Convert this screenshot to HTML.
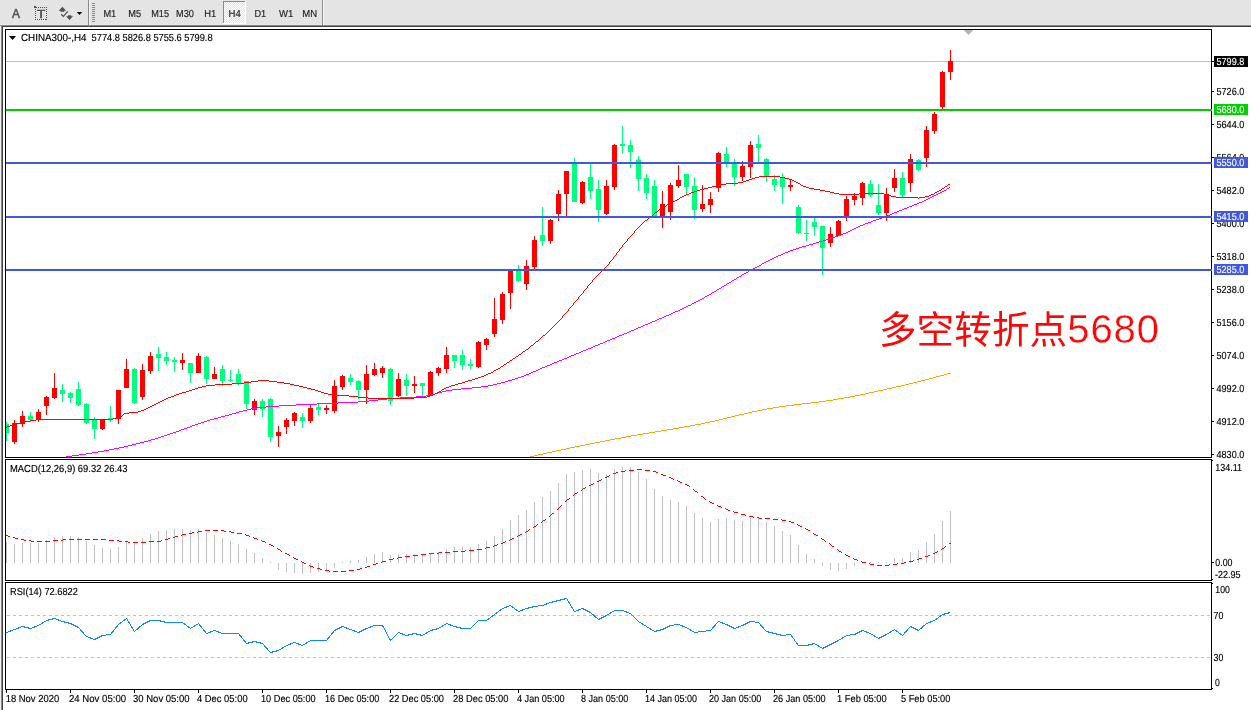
<!DOCTYPE html>
<html><head><meta charset="utf-8"><title>CHINA300-,H4</title>
<style>
html,body{margin:0;padding:0;background:#fff;}
body{width:1251px;height:710px;overflow:hidden;position:relative;font-family:"Liberation Sans","Noto Sans CJK SC",sans-serif;}
svg text{font-family:"Liberation Sans","Noto Sans CJK SC",sans-serif;}
</style></head><body>
<svg width="1251" height="710" viewBox="0 0 1251 710" shape-rendering="crispEdges" style="position:absolute;left:0;top:0">
<rect x="0" y="0" width="1251" height="25" fill="#e4e4e4"/>
<rect x="0" y="24" width="1251" height="1" fill="#e9e9e9"/>
<rect x="0" y="25" width="1251" height="1" fill="#8a8a8a"/>
<rect x="1" y="26" width="1251" height="1" fill="#404040"/>
<rect x="0" y="26" width="1" height="684" fill="#f0f0f0"/>
<rect x="1" y="25" width="1" height="685" fill="#8a8a8a"/>
<rect x="2" y="26" width="1" height="684" fill="#404040"/>
<defs><clipPath id="cm"><rect x="6" y="30" width="1205" height="427"/></clipPath></defs>
<rect x="6" y="61" width="1205" height="1" fill="#c0c0c0"/>
<polygon points="963.5,30 973.5,30 968.5,35" fill="#b4b4b4" shape-rendering="auto"/>
<g clip-path="url(#cm)">
<rect x="6" y="422" width="1" height="19" fill="#00ff7f"/>
<rect x="4" y="424" width="5" height="9" fill="#00ff7f"/>
<rect x="14" y="420" width="1" height="24" fill="#ff0000"/>
<rect x="12" y="423" width="5" height="19" fill="#ff0000"/>
<rect x="22" y="411" width="1" height="16" fill="#ff0000"/>
<rect x="20" y="416" width="5" height="8" fill="#ff0000"/>
<rect x="30" y="412" width="1" height="10" fill="#00ff7f"/>
<rect x="28" y="416" width="5" height="4" fill="#00ff7f"/>
<rect x="38" y="409" width="1" height="13" fill="#ff0000"/>
<rect x="36" y="412" width="5" height="8" fill="#ff0000"/>
<rect x="46" y="396" width="1" height="19" fill="#ff0000"/>
<rect x="44" y="397" width="5" height="9" fill="#ff0000"/>
<rect x="54" y="373" width="1" height="26" fill="#ff0000"/>
<rect x="52" y="388" width="5" height="10" fill="#ff0000"/>
<rect x="62" y="384" width="1" height="18" fill="#00ff7f"/>
<rect x="60" y="390" width="5" height="4" fill="#00ff7f"/>
<rect x="70" y="392" width="1" height="11" fill="#00ff7f"/>
<rect x="68" y="393" width="5" height="5" fill="#00ff7f"/>
<rect x="78" y="382" width="1" height="24" fill="#00ff7f"/>
<rect x="76" y="389" width="5" height="16" fill="#00ff7f"/>
<rect x="86" y="403" width="1" height="21" fill="#00ff7f"/>
<rect x="84" y="404" width="5" height="19" fill="#00ff7f"/>
<rect x="94" y="417" width="1" height="22" fill="#00ff7f"/>
<rect x="92" y="420" width="5" height="9" fill="#00ff7f"/>
<rect x="102" y="420" width="1" height="10" fill="#ff0000"/>
<rect x="100" y="420" width="5" height="9" fill="#ff0000"/>
<rect x="110" y="406" width="1" height="16" fill="#00ff7f"/>
<rect x="108" y="418" width="5" height="2" fill="#00ff7f"/>
<rect x="118" y="390" width="1" height="34" fill="#ff0000"/>
<rect x="116" y="390" width="5" height="29" fill="#ff0000"/>
<rect x="126" y="359" width="1" height="29" fill="#ff0000"/>
<rect x="124" y="369" width="5" height="19" fill="#ff0000"/>
<rect x="134" y="368" width="1" height="36" fill="#00ff7f"/>
<rect x="132" y="369" width="5" height="34" fill="#00ff7f"/>
<rect x="142" y="364" width="1" height="36" fill="#ff0000"/>
<rect x="140" y="370" width="5" height="27" fill="#ff0000"/>
<rect x="150" y="352" width="1" height="22" fill="#ff0000"/>
<rect x="148" y="356" width="5" height="15" fill="#ff0000"/>
<rect x="158" y="347" width="1" height="24" fill="#00ff7f"/>
<rect x="156" y="354" width="5" height="4" fill="#00ff7f"/>
<rect x="166" y="352" width="1" height="13" fill="#00ff7f"/>
<rect x="164" y="357" width="5" height="4" fill="#00ff7f"/>
<rect x="174" y="357" width="1" height="15" fill="#00ff7f"/>
<rect x="172" y="360" width="5" height="2" fill="#00ff7f"/>
<rect x="182" y="353" width="1" height="17" fill="#ff0000"/>
<rect x="180" y="360" width="5" height="3" fill="#ff0000"/>
<rect x="190" y="363" width="1" height="20" fill="#00ff7f"/>
<rect x="188" y="363" width="5" height="10" fill="#00ff7f"/>
<rect x="198" y="353" width="1" height="20" fill="#ff0000"/>
<rect x="196" y="356" width="5" height="17" fill="#ff0000"/>
<rect x="206" y="356" width="1" height="28" fill="#00ff7f"/>
<rect x="204" y="357" width="5" height="22" fill="#00ff7f"/>
<rect x="214" y="367" width="1" height="12" fill="#ff0000"/>
<rect x="212" y="374" width="5" height="5" fill="#ff0000"/>
<rect x="222" y="365" width="1" height="21" fill="#00ff7f"/>
<rect x="220" y="369" width="5" height="12" fill="#00ff7f"/>
<rect x="230" y="370" width="1" height="12" fill="#00ff7f"/>
<rect x="228" y="380" width="5" height="1" fill="#00ff7f"/>
<rect x="238" y="369" width="1" height="16" fill="#00ff7f"/>
<rect x="236" y="374" width="5" height="9" fill="#00ff7f"/>
<rect x="246" y="381" width="1" height="28" fill="#00ff7f"/>
<rect x="244" y="381" width="5" height="23" fill="#00ff7f"/>
<rect x="254" y="399" width="1" height="16" fill="#ff0000"/>
<rect x="252" y="401" width="5" height="9" fill="#ff0000"/>
<rect x="262" y="399" width="1" height="18" fill="#00ff7f"/>
<rect x="260" y="401" width="5" height="8" fill="#00ff7f"/>
<rect x="270" y="398" width="1" height="44" fill="#00ff7f"/>
<rect x="268" y="399" width="5" height="38" fill="#00ff7f"/>
<rect x="278" y="426" width="1" height="21" fill="#ff0000"/>
<rect x="276" y="432" width="5" height="4" fill="#ff0000"/>
<rect x="286" y="418" width="1" height="16" fill="#ff0000"/>
<rect x="284" y="420" width="5" height="7" fill="#ff0000"/>
<rect x="294" y="412" width="1" height="14" fill="#ff0000"/>
<rect x="292" y="413" width="5" height="8" fill="#ff0000"/>
<rect x="302" y="413" width="1" height="15" fill="#00ff7f"/>
<rect x="300" y="417" width="5" height="4" fill="#00ff7f"/>
<rect x="310" y="404" width="1" height="19" fill="#ff0000"/>
<rect x="308" y="408" width="5" height="13" fill="#ff0000"/>
<rect x="318" y="404" width="1" height="11" fill="#00ff7f"/>
<rect x="316" y="407" width="5" height="3" fill="#00ff7f"/>
<rect x="326" y="405" width="1" height="9" fill="#ff0000"/>
<rect x="324" y="408" width="5" height="2" fill="#ff0000"/>
<rect x="334" y="380" width="1" height="33" fill="#ff0000"/>
<rect x="332" y="386" width="5" height="25" fill="#ff0000"/>
<rect x="342" y="375" width="1" height="15" fill="#ff0000"/>
<rect x="340" y="376" width="5" height="11" fill="#ff0000"/>
<rect x="350" y="374" width="1" height="11" fill="#00ff7f"/>
<rect x="348" y="378" width="5" height="4" fill="#00ff7f"/>
<rect x="358" y="380" width="1" height="19" fill="#00ff7f"/>
<rect x="356" y="381" width="5" height="9" fill="#00ff7f"/>
<rect x="366" y="365" width="1" height="39" fill="#ff0000"/>
<rect x="364" y="374" width="5" height="16" fill="#ff0000"/>
<rect x="374" y="363" width="1" height="13" fill="#ff0000"/>
<rect x="372" y="369" width="5" height="6" fill="#ff0000"/>
<rect x="382" y="366" width="1" height="12" fill="#ff0000"/>
<rect x="380" y="368" width="5" height="5" fill="#ff0000"/>
<rect x="390" y="368" width="1" height="37" fill="#00ff7f"/>
<rect x="388" y="369" width="5" height="32" fill="#00ff7f"/>
<rect x="398" y="373" width="1" height="24" fill="#ff0000"/>
<rect x="396" y="379" width="5" height="17" fill="#ff0000"/>
<rect x="406" y="374" width="1" height="22" fill="#00ff7f"/>
<rect x="404" y="380" width="5" height="6" fill="#00ff7f"/>
<rect x="414" y="376" width="1" height="17" fill="#ff0000"/>
<rect x="412" y="384" width="5" height="2" fill="#ff0000"/>
<rect x="422" y="383" width="1" height="14" fill="#00ff7f"/>
<rect x="420" y="383" width="5" height="3" fill="#00ff7f"/>
<rect x="430" y="371" width="1" height="25" fill="#ff0000"/>
<rect x="428" y="372" width="5" height="23" fill="#ff0000"/>
<rect x="438" y="367" width="1" height="9" fill="#ff0000"/>
<rect x="436" y="368" width="5" height="5" fill="#ff0000"/>
<rect x="446" y="347" width="1" height="26" fill="#ff0000"/>
<rect x="444" y="355" width="5" height="14" fill="#ff0000"/>
<rect x="454" y="355" width="1" height="13" fill="#00ff7f"/>
<rect x="452" y="355" width="5" height="6" fill="#00ff7f"/>
<rect x="462" y="350" width="1" height="20" fill="#00ff7f"/>
<rect x="460" y="355" width="5" height="10" fill="#00ff7f"/>
<rect x="470" y="359" width="1" height="10" fill="#00ff7f"/>
<rect x="468" y="364" width="5" height="2" fill="#00ff7f"/>
<rect x="478" y="341" width="1" height="27" fill="#ff0000"/>
<rect x="476" y="342" width="5" height="25" fill="#ff0000"/>
<rect x="486" y="338" width="1" height="12" fill="#ff0000"/>
<rect x="484" y="339" width="5" height="6" fill="#ff0000"/>
<rect x="494" y="298" width="1" height="39" fill="#ff0000"/>
<rect x="492" y="319" width="5" height="15" fill="#ff0000"/>
<rect x="502" y="292" width="1" height="32" fill="#ff0000"/>
<rect x="500" y="294" width="5" height="26" fill="#ff0000"/>
<rect x="510" y="270" width="1" height="39" fill="#ff0000"/>
<rect x="508" y="270" width="5" height="23" fill="#ff0000"/>
<rect x="518" y="265" width="1" height="17" fill="#00ff7f"/>
<rect x="516" y="270" width="5" height="11" fill="#00ff7f"/>
<rect x="526" y="260" width="1" height="30" fill="#ff0000"/>
<rect x="524" y="266" width="5" height="18" fill="#ff0000"/>
<rect x="534" y="236" width="1" height="33" fill="#ff0000"/>
<rect x="532" y="240" width="5" height="27" fill="#ff0000"/>
<rect x="542" y="207" width="1" height="39" fill="#00ff7f"/>
<rect x="540" y="235" width="5" height="6" fill="#00ff7f"/>
<rect x="550" y="219" width="1" height="25" fill="#ff0000"/>
<rect x="548" y="220" width="5" height="21" fill="#ff0000"/>
<rect x="558" y="190" width="1" height="31" fill="#ff0000"/>
<rect x="556" y="194" width="5" height="20" fill="#ff0000"/>
<rect x="566" y="171" width="1" height="45" fill="#ff0000"/>
<rect x="564" y="171" width="5" height="23" fill="#ff0000"/>
<rect x="574" y="158" width="1" height="44" fill="#00ff7f"/>
<rect x="572" y="163" width="5" height="39" fill="#00ff7f"/>
<rect x="582" y="181" width="1" height="23" fill="#ff0000"/>
<rect x="580" y="182" width="5" height="21" fill="#ff0000"/>
<rect x="590" y="164" width="1" height="35" fill="#00ff7f"/>
<rect x="588" y="177" width="5" height="14" fill="#00ff7f"/>
<rect x="598" y="180" width="1" height="42" fill="#00ff7f"/>
<rect x="596" y="189" width="5" height="21" fill="#00ff7f"/>
<rect x="606" y="180" width="1" height="35" fill="#ff0000"/>
<rect x="604" y="186" width="5" height="28" fill="#ff0000"/>
<rect x="614" y="144" width="1" height="46" fill="#ff0000"/>
<rect x="612" y="145" width="5" height="42" fill="#ff0000"/>
<rect x="622" y="126" width="1" height="28" fill="#00ff7f"/>
<rect x="620" y="144" width="5" height="2" fill="#00ff7f"/>
<rect x="630" y="140" width="1" height="28" fill="#00ff7f"/>
<rect x="628" y="145" width="5" height="7" fill="#00ff7f"/>
<rect x="638" y="156" width="1" height="35" fill="#00ff7f"/>
<rect x="636" y="160" width="5" height="19" fill="#00ff7f"/>
<rect x="646" y="174" width="1" height="25" fill="#00ff7f"/>
<rect x="644" y="178" width="5" height="15" fill="#00ff7f"/>
<rect x="654" y="180" width="1" height="36" fill="#00ff7f"/>
<rect x="652" y="186" width="5" height="30" fill="#00ff7f"/>
<rect x="662" y="191" width="1" height="37" fill="#ff0000"/>
<rect x="660" y="204" width="5" height="12" fill="#ff0000"/>
<rect x="670" y="183" width="1" height="37" fill="#ff0000"/>
<rect x="668" y="185" width="5" height="27" fill="#ff0000"/>
<rect x="678" y="165" width="1" height="23" fill="#ff0000"/>
<rect x="676" y="180" width="5" height="6" fill="#ff0000"/>
<rect x="686" y="174" width="1" height="20" fill="#00ff7f"/>
<rect x="684" y="174" width="5" height="13" fill="#00ff7f"/>
<rect x="694" y="177" width="1" height="42" fill="#00ff7f"/>
<rect x="692" y="186" width="5" height="24" fill="#00ff7f"/>
<rect x="702" y="185" width="1" height="27" fill="#ff0000"/>
<rect x="700" y="204" width="5" height="5" fill="#ff0000"/>
<rect x="710" y="192" width="1" height="21" fill="#ff0000"/>
<rect x="708" y="199" width="5" height="6" fill="#ff0000"/>
<rect x="718" y="152" width="1" height="40" fill="#ff0000"/>
<rect x="716" y="153" width="5" height="35" fill="#ff0000"/>
<rect x="726" y="147" width="1" height="20" fill="#00ff7f"/>
<rect x="724" y="154" width="5" height="8" fill="#00ff7f"/>
<rect x="734" y="159" width="1" height="27" fill="#00ff7f"/>
<rect x="732" y="164" width="5" height="13" fill="#00ff7f"/>
<rect x="742" y="161" width="1" height="20" fill="#ff0000"/>
<rect x="740" y="166" width="5" height="11" fill="#ff0000"/>
<rect x="750" y="141" width="1" height="37" fill="#ff0000"/>
<rect x="748" y="145" width="5" height="22" fill="#ff0000"/>
<rect x="758" y="135" width="1" height="27" fill="#00ff7f"/>
<rect x="756" y="144" width="5" height="4" fill="#00ff7f"/>
<rect x="766" y="158" width="1" height="24" fill="#00ff7f"/>
<rect x="764" y="159" width="5" height="17" fill="#00ff7f"/>
<rect x="774" y="175" width="1" height="16" fill="#00ff7f"/>
<rect x="772" y="179" width="5" height="6" fill="#00ff7f"/>
<rect x="782" y="173" width="1" height="31" fill="#00ff7f"/>
<rect x="780" y="178" width="5" height="9" fill="#00ff7f"/>
<rect x="790" y="179" width="1" height="12" fill="#ff0000"/>
<rect x="788" y="185" width="5" height="2" fill="#ff0000"/>
<rect x="798" y="205" width="1" height="29" fill="#00ff7f"/>
<rect x="796" y="207" width="5" height="26" fill="#00ff7f"/>
<rect x="806" y="220" width="1" height="21" fill="#00ff7f"/>
<rect x="804" y="233" width="5" height="1" fill="#00ff7f"/>
<rect x="814" y="218" width="1" height="18" fill="#00ff7f"/>
<rect x="812" y="222" width="5" height="5" fill="#00ff7f"/>
<rect x="822" y="226" width="1" height="49" fill="#00ff7f"/>
<rect x="820" y="226" width="5" height="22" fill="#00ff7f"/>
<rect x="830" y="227" width="1" height="20" fill="#ff0000"/>
<rect x="828" y="234" width="5" height="9" fill="#ff0000"/>
<rect x="838" y="220" width="1" height="16" fill="#ff0000"/>
<rect x="836" y="221" width="5" height="15" fill="#ff0000"/>
<rect x="846" y="196" width="1" height="25" fill="#ff0000"/>
<rect x="844" y="199" width="5" height="17" fill="#ff0000"/>
<rect x="854" y="193" width="1" height="12" fill="#ff0000"/>
<rect x="852" y="196" width="5" height="4" fill="#ff0000"/>
<rect x="862" y="182" width="1" height="23" fill="#ff0000"/>
<rect x="860" y="183" width="5" height="15" fill="#ff0000"/>
<rect x="870" y="180" width="1" height="17" fill="#00ff7f"/>
<rect x="868" y="184" width="5" height="11" fill="#00ff7f"/>
<rect x="878" y="184" width="1" height="31" fill="#00ff7f"/>
<rect x="876" y="205" width="5" height="8" fill="#00ff7f"/>
<rect x="886" y="188" width="1" height="33" fill="#ff0000"/>
<rect x="884" y="194" width="5" height="19" fill="#ff0000"/>
<rect x="894" y="169" width="1" height="23" fill="#ff0000"/>
<rect x="892" y="178" width="5" height="10" fill="#ff0000"/>
<rect x="902" y="172" width="1" height="25" fill="#00ff7f"/>
<rect x="900" y="178" width="5" height="17" fill="#00ff7f"/>
<rect x="910" y="154" width="1" height="38" fill="#ff0000"/>
<rect x="908" y="159" width="5" height="24" fill="#ff0000"/>
<rect x="918" y="159" width="1" height="12" fill="#00ff7f"/>
<rect x="916" y="160" width="5" height="10" fill="#00ff7f"/>
<rect x="926" y="126" width="1" height="41" fill="#ff0000"/>
<rect x="924" y="130" width="5" height="28" fill="#ff0000"/>
<rect x="934" y="112" width="1" height="22" fill="#ff0000"/>
<rect x="932" y="114" width="5" height="17" fill="#ff0000"/>
<rect x="942" y="71" width="1" height="38" fill="#ff0000"/>
<rect x="940" y="72" width="5" height="35" fill="#ff0000"/>
<rect x="950" y="50" width="1" height="30" fill="#ff0000"/>
<rect x="948" y="61" width="5" height="11" fill="#ff0000"/>
<path d="M947 373h4v1h-4zM944 374h3v1h-3zM940 375h4v1h-4zM936 376h4v1h-4zM933 377h3v1h-3zM929 378h4v1h-4zM925 379h4v1h-4zM921 380h4v1h-4zM917 381h4v1h-4zM913 382h4v1h-4zM909 383h4v1h-4zM905 384h4v1h-4zM901 385h4v1h-4zM896 386h5v1h-5zM892 387h4v1h-4zM887 388h5v1h-5zM883 389h4v1h-4zM878 390h5v1h-5zM874 391h4v1h-4zM869 392h5v1h-5zM865 393h4v1h-4zM860 394h5v1h-5zM855 395h5v1h-5zM850 396h5v1h-5zM844 397h6v1h-6zM838 398h6v1h-6zM833 399h5v1h-5zM826 400h7v1h-7zM819 401h7v1h-7zM811 402h8v1h-8zM802 403h9v1h-9zM794 404h8v1h-8zM786 405h8v1h-8zM779 406h7v1h-7zM773 407h6v1h-6zM767 408h6v1h-6zM762 409h5v1h-5zM757 410h5v1h-5zM752 411h5v1h-5zM748 412h4v1h-4zM744 413h4v1h-4zM739 414h5v1h-5zM735 415h4v1h-4zM731 416h4v1h-4zM727 417h4v1h-4zM723 418h4v1h-4zM719 419h4v1h-4zM715 420h4v1h-4zM710 421h5v1h-5zM705 422h5v1h-5zM701 423h4v1h-4zM695 424h6v1h-6zM690 425h5v1h-5zM684 426h6v1h-6zM679 427h5v1h-5zM673 428h6v1h-6zM667 429h6v1h-6zM661 430h6v1h-6zM655 431h6v1h-6zM649 432h6v1h-6zM643 433h6v1h-6zM637 434h6v1h-6zM631 435h6v1h-6zM626 436h5v1h-5zM621 437h5v1h-5zM615 438h6v1h-6zM610 439h5v1h-5zM605 440h5v1h-5zM600 441h5v1h-5zM595 442h5v1h-5zM590 443h5v1h-5zM585 444h5v1h-5zM580 445h5v1h-5zM575 446h5v1h-5zM570 447h5v1h-5zM566 448h4v1h-4zM561 449h5v1h-5zM556 450h5v1h-5zM552 451h4v1h-4zM547 452h5v1h-5zM543 453h4v1h-4zM538 454h5v1h-5zM534 455h4v1h-4zM530 456h4v1h-4z" fill="#ffa500"/>
<path d="M949 187h1v1h-1zM947 188h2v1h-2zM946 189h1v1h-1zM944 190h2v1h-2zM942 191h2v1h-2zM940 192h2v1h-2zM938 193h2v1h-2zM936 194h2v1h-2zM934 195h2v1h-2zM932 196h2v1h-2zM930 197h2v1h-2zM928 198h2v1h-2zM926 199h2v1h-2zM924 200h2v1h-2zM922 201h2v1h-2zM919 202h3v1h-3zM917 203h2v1h-2zM914 204h3v1h-3zM912 205h2v1h-2zM909 206h3v1h-3zM907 207h2v1h-2zM904 208h3v1h-3zM902 209h2v1h-2zM899 210h3v1h-3zM897 211h2v1h-2zM894 212h3v1h-3zM892 213h2v1h-2zM890 214h2v1h-2zM887 215h3v1h-3zM884 216h3v1h-3zM882 217h2v1h-2zM879 218h3v1h-3zM876 219h3v1h-3zM873 220h3v1h-3zM871 221h2v1h-2zM868 222h3v1h-3zM865 223h3v1h-3zM863 224h2v1h-2zM860 225h3v1h-3zM858 226h2v1h-2zM856 227h2v1h-2zM854 228h2v1h-2zM852 229h2v1h-2zM850 230h2v1h-2zM848 231h2v1h-2zM846 232h2v1h-2zM843 233h3v1h-3zM841 234h2v1h-2zM838 235h3v1h-3zM835 236h3v1h-3zM832 237h3v1h-3zM829 238h3v1h-3zM826 239h3v1h-3zM823 240h3v1h-3zM819 241h4v1h-4zM816 242h3v1h-3zM813 243h3v1h-3zM809 244h4v1h-4zM806 245h3v1h-3zM802 246h4v1h-4zM799 247h3v1h-3zM796 248h3v1h-3zM793 249h3v1h-3zM790 250h3v1h-3zM788 251h2v1h-2zM785 252h3v1h-3zM783 253h2v1h-2zM781 254h2v1h-2zM778 255h3v1h-3zM776 256h2v1h-2zM774 257h2v1h-2zM772 258h2v1h-2zM770 259h2v1h-2zM768 260h2v1h-2zM766 261h2v1h-2zM764 262h2v1h-2zM762 263h2v1h-2zM761 264h1v1h-1zM759 265h2v1h-2zM757 266h2v1h-2zM755 267h2v1h-2zM753 268h2v1h-2zM751 269h2v1h-2zM749 270h2v1h-2zM748 271h1v1h-1zM746 272h2v1h-2zM744 273h2v1h-2zM742 274h2v1h-2zM741 275h1v1h-1zM739 276h2v1h-2zM737 277h2v1h-2zM736 278h1v1h-1zM734 279h2v1h-2zM732 280h2v1h-2zM731 281h1v1h-1zM729 282h2v1h-2zM727 283h2v1h-2zM726 284h1v1h-1zM724 285h2v1h-2zM722 286h2v1h-2zM721 287h1v1h-1zM719 288h2v1h-2zM717 289h2v1h-2zM716 290h1v1h-1zM714 291h2v1h-2zM712 292h2v1h-2zM711 293h1v1h-1zM709 294h2v1h-2zM707 295h2v1h-2zM705 296h2v1h-2zM704 297h1v1h-1zM702 298h2v1h-2zM700 299h2v1h-2zM698 300h2v1h-2zM696 301h2v1h-2zM694 302h2v1h-2zM692 303h2v1h-2zM691 304h1v1h-1zM688 305h3v1h-3zM686 306h2v1h-2zM684 307h2v1h-2zM682 308h2v1h-2zM680 309h2v1h-2zM678 310h2v1h-2zM675 311h3v1h-3zM673 312h2v1h-2zM671 313h2v1h-2zM669 314h2v1h-2zM666 315h3v1h-3zM664 316h2v1h-2zM662 317h2v1h-2zM659 318h3v1h-3zM657 319h2v1h-2zM655 320h2v1h-2zM652 321h3v1h-3zM650 322h2v1h-2zM648 323h2v1h-2zM645 324h3v1h-3zM643 325h2v1h-2zM641 326h2v1h-2zM638 327h3v1h-3zM636 328h2v1h-2zM634 329h2v1h-2zM631 330h3v1h-3zM629 331h2v1h-2zM627 332h2v1h-2zM624 333h3v1h-3zM622 334h2v1h-2zM619 335h3v1h-3zM617 336h2v1h-2zM615 337h2v1h-2zM612 338h3v1h-3zM610 339h2v1h-2zM607 340h3v1h-3zM605 341h2v1h-2zM603 342h2v1h-2zM600 343h3v1h-3zM598 344h2v1h-2zM595 345h3v1h-3zM593 346h2v1h-2zM591 347h2v1h-2zM588 348h3v1h-3zM586 349h2v1h-2zM583 350h3v1h-3zM581 351h2v1h-2zM579 352h2v1h-2zM576 353h3v1h-3zM574 354h2v1h-2zM571 355h3v1h-3zM569 356h2v1h-2zM567 357h2v1h-2zM564 358h3v1h-3zM562 359h2v1h-2zM559 360h3v1h-3zM557 361h2v1h-2zM554 362h3v1h-3zM552 363h2v1h-2zM550 364h2v1h-2zM547 365h3v1h-3zM545 366h2v1h-2zM542 367h3v1h-3zM540 368h2v1h-2zM538 369h2v1h-2zM536 370h2v1h-2zM533 371h3v1h-3zM531 372h2v1h-2zM529 373h2v1h-2zM526 374h3v1h-3zM524 375h2v1h-2zM521 376h3v1h-3zM518 377h3v1h-3zM515 378h3v1h-3zM512 379h3v1h-3zM508 380h4v1h-4zM505 381h3v1h-3zM501 382h4v1h-4zM497 383h4v1h-4zM493 384h4v1h-4zM488 385h5v1h-5zM481 386h7v1h-7zM472 387h9v1h-9zM461 388h11v1h-11zM452 389h9v1h-9zM446 390h6v1h-6zM442 391h4v1h-4zM438 392h4v1h-4zM435 393h3v1h-3zM431 394h4v1h-4zM426 395h5v1h-5zM416 396h10v1h-10zM400 397h16v1h-16zM387 398h13v1h-13zM378 399h9v1h-9zM369 400h9v1h-9zM358 401h11v1h-11zM338 402h20v1h-20zM317 403h21v1h-21zM296 404h21v1h-21zM279 405h17v1h-17zM266 406h13v1h-13zM257 407h9v1h-9zM251 408h6v1h-6zM247 409h4v1h-4zM243 410h4v1h-4zM239 411h4v1h-4zM236 412h3v1h-3zM232 413h4v1h-4zM229 414h3v1h-3zM225 415h4v1h-4zM221 416h4v1h-4zM218 417h3v1h-3zM214 418h4v1h-4zM210 419h4v1h-4zM207 420h3v1h-3zM204 421h3v1h-3zM201 422h3v1h-3zM198 423h3v1h-3zM195 424h3v1h-3zM192 425h3v1h-3zM190 426h2v1h-2zM187 427h3v1h-3zM184 428h3v1h-3zM181 429h3v1h-3zM179 430h2v1h-2zM176 431h3v1h-3zM173 432h3v1h-3zM170 433h3v1h-3zM167 434h3v1h-3zM164 435h3v1h-3zM161 436h3v1h-3zM158 437h3v1h-3zM155 438h3v1h-3zM151 439h4v1h-4zM148 440h3v1h-3zM144 441h4v1h-4zM140 442h4v1h-4zM136 443h4v1h-4zM132 444h4v1h-4zM128 445h4v1h-4zM124 446h4v1h-4zM119 447h5v1h-5zM114 448h5v1h-5zM109 449h5v1h-5zM104 450h5v1h-5zM98 451h6v1h-6zM92 452h6v1h-6zM86 453h6v1h-6zM79 454h7v1h-7zM72 455h7v1h-7zM66 456h6v1h-6z" fill="#ff00ff"/>
<path d="M759 176h21v1h-21zM755 177h4v1h-4zM780 177h5v1h-5zM752 178h3v1h-3zM785 178h4v1h-4zM749 179h3v1h-3zM789 179h3v1h-3zM746 180h3v1h-3zM792 180h2v1h-2zM743 181h3v1h-3zM794 181h2v1h-2zM738 182h5v1h-5zM796 182h2v1h-2zM726 183h12v1h-12zM798 183h2v1h-2zM720 184h6v1h-6zM800 184h1v1h-1zM948 184h2v1h-2zM717 185h3v1h-3zM801 185h2v1h-2zM947 185h1v1h-1zM712 186h5v1h-5zM803 186h3v1h-3zM945 186h2v1h-2zM708 187h4v1h-4zM806 187h3v1h-3zM944 187h1v1h-1zM704 188h4v1h-4zM809 188h5v1h-5zM942 188h2v1h-2zM700 189h4v1h-4zM814 189h6v1h-6zM941 189h1v1h-1zM697 190h3v1h-3zM820 190h5v1h-5zM939 190h2v1h-2zM694 191h3v1h-3zM825 191h5v1h-5zM937 191h2v1h-2zM691 192h3v1h-3zM830 192h4v1h-4zM935 192h2v1h-2zM689 193h2v1h-2zM834 193h5v1h-5zM859 193h25v1h-25zM934 193h1v1h-1zM686 194h3v1h-3zM839 194h20v1h-20zM884 194h3v1h-3zM931 194h3v1h-3zM684 195h2v1h-2zM887 195h4v1h-4zM929 195h2v1h-2zM682 196h2v1h-2zM891 196h5v1h-5zM925 196h4v1h-4zM680 197h2v1h-2zM896 197h22v1h-22zM919 197h6v1h-6zM679 198h1v1h-1zM918 198h1v1h-1zM677 199h2v1h-2zM675 200h2v1h-2zM673 201h2v1h-2zM671 202h2v1h-2zM669 203h2v1h-2zM667 204h2v1h-2zM666 205h1v1h-1zM664 206h2v1h-2zM662 207h2v1h-2zM661 208h1v1h-1zM659 209h2v1h-2zM658 210h1v1h-1zM657 211h1v1h-1zM655 212h2v1h-2zM654 213h1v1h-1zM653 214h1v1h-1zM652 215h1v1h-1zM650 216h2v1h-2zM649 217h1v1h-1zM648 218h1v1h-1zM647 219h1v1h-1zM645 220h2v1h-2zM644 221h1v1h-1zM643 222h1v1h-1zM642 223h1v1h-1zM641 224h1v1h-1zM640 225h1v1h-1zM639 226h1v1h-1zM638 227h1v1h-1zM637 228h1v1h-1zM636 229h1v1h-1zM635 230h1v1h-1zM634 231h1v1h-1zM634 232h1v1h-1zM633 233h1v1h-1zM632 234h1v1h-1zM631 235h1v1h-1zM630 236h1v1h-1zM629 237h1v1h-1zM628 238h1v1h-1zM627 239h1v1h-1zM627 240h1v1h-1zM626 241h1v1h-1zM625 242h1v1h-1zM624 243h1v1h-1zM623 244h1v1h-1zM622 245h1v1h-1zM622 246h1v1h-1zM621 247h1v1h-1zM620 248h1v1h-1zM619 249h1v1h-1zM619 250h1v1h-1zM618 251h1v1h-1zM617 252h1v1h-1zM616 253h1v1h-1zM616 254h1v1h-1zM615 255h1v1h-1zM614 256h1v1h-1zM613 257h1v1h-1zM613 258h1v1h-1zM612 259h1v1h-1zM611 260h1v1h-1zM610 261h1v1h-1zM609 262h1v1h-1zM609 263h1v1h-1zM608 264h1v1h-1zM607 265h1v1h-1zM606 266h1v1h-1zM605 267h1v1h-1zM604 268h1v1h-1zM603 269h1v1h-1zM602 270h1v1h-1zM601 271h1v1h-1zM600 272h1v1h-1zM599 273h1v1h-1zM598 274h1v1h-1zM597 275h1v1h-1zM596 276h1v1h-1zM595 277h1v1h-1zM594 278h1v1h-1zM593 279h1v1h-1zM592 280h1v1h-1zM592 281h1v1h-1zM591 282h1v1h-1zM590 283h1v1h-1zM589 284h1v1h-1zM588 285h1v1h-1zM587 286h1v1h-1zM587 287h1v1h-1zM586 288h1v1h-1zM585 289h1v1h-1zM584 290h1v1h-1zM583 291h1v1h-1zM583 292h1v1h-1zM582 293h1v1h-1zM581 294h1v1h-1zM580 295h1v1h-1zM579 296h1v1h-1zM578 297h1v1h-1zM578 298h1v1h-1zM577 299h1v1h-1zM576 300h1v1h-1zM575 301h1v1h-1zM574 302h1v1h-1zM573 303h1v1h-1zM573 304h1v1h-1zM572 305h1v1h-1zM571 306h1v1h-1zM570 307h1v1h-1zM569 308h1v1h-1zM568 309h1v1h-1zM568 310h1v1h-1zM567 311h1v1h-1zM566 312h1v1h-1zM565 313h1v1h-1zM564 314h1v1h-1zM563 315h1v1h-1zM562 316h1v1h-1zM562 317h1v1h-1zM561 318h1v1h-1zM560 319h1v1h-1zM559 320h1v1h-1zM558 321h1v1h-1zM557 322h1v1h-1zM556 323h1v1h-1zM555 324h1v1h-1zM554 325h1v1h-1zM553 326h1v1h-1zM552 327h1v1h-1zM551 328h1v1h-1zM550 329h1v1h-1zM549 330h1v1h-1zM548 331h1v1h-1zM547 332h1v1h-1zM546 333h1v1h-1zM545 334h1v1h-1zM543 335h2v1h-2zM542 336h1v1h-1zM541 337h1v1h-1zM540 338h1v1h-1zM539 339h1v1h-1zM538 340h1v1h-1zM536 341h2v1h-2zM535 342h1v1h-1zM534 343h1v1h-1zM533 344h1v1h-1zM531 345h2v1h-2zM530 346h1v1h-1zM529 347h1v1h-1zM528 348h1v1h-1zM526 349h2v1h-2zM525 350h1v1h-1zM523 351h2v1h-2zM522 352h1v1h-1zM521 353h1v1h-1zM519 354h2v1h-2zM518 355h1v1h-1zM516 356h2v1h-2zM515 357h1v1h-1zM513 358h2v1h-2zM512 359h1v1h-1zM510 360h2v1h-2zM509 361h1v1h-1zM507 362h2v1h-2zM506 363h1v1h-1zM504 364h2v1h-2zM503 365h1v1h-1zM501 366h2v1h-2zM500 367h1v1h-1zM498 368h2v1h-2zM496 369h2v1h-2zM494 370h2v1h-2zM493 371h1v1h-1zM491 372h2v1h-2zM488 373h3v1h-3zM486 374h2v1h-2zM484 375h2v1h-2zM481 376h3v1h-3zM478 377h3v1h-3zM475 378h3v1h-3zM472 379h3v1h-3zM258 380h11v1h-11zM468 380h4v1h-4zM251 381h7v1h-7zM269 381h8v1h-8zM465 381h3v1h-3zM244 382h7v1h-7zM277 382h7v1h-7zM462 382h3v1h-3zM232 383h12v1h-12zM284 383h6v1h-6zM458 383h4v1h-4zM215 384h17v1h-17zM290 384h4v1h-4zM455 384h3v1h-3zM206 385h9v1h-9zM294 385h5v1h-5zM451 385h4v1h-4zM202 386h4v1h-4zM299 386h4v1h-4zM449 386h2v1h-2zM198 387h4v1h-4zM303 387h4v1h-4zM446 387h3v1h-3zM195 388h3v1h-3zM307 388h4v1h-4zM444 388h2v1h-2zM192 389h3v1h-3zM311 389h4v1h-4zM442 389h2v1h-2zM189 390h3v1h-3zM315 390h3v1h-3zM441 390h1v1h-1zM186 391h3v1h-3zM318 391h3v1h-3zM439 391h2v1h-2zM182 392h4v1h-4zM321 392h3v1h-3zM437 392h2v1h-2zM179 393h3v1h-3zM324 393h4v1h-4zM435 393h2v1h-2zM176 394h3v1h-3zM328 394h7v1h-7zM433 394h2v1h-2zM174 395h2v1h-2zM335 395h14v1h-14zM430 395h3v1h-3zM171 396h3v1h-3zM349 396h9v1h-9zM427 396h3v1h-3zM168 397h3v1h-3zM358 397h10v1h-10zM414 397h13v1h-13zM166 398h2v1h-2zM368 398h46v1h-46zM164 399h2v1h-2zM162 400h2v1h-2zM160 401h2v1h-2zM158 402h2v1h-2zM156 403h2v1h-2zM154 404h2v1h-2zM152 405h2v1h-2zM150 406h2v1h-2zM148 407h2v1h-2zM146 408h2v1h-2zM144 409h2v1h-2zM141 410h3v1h-3zM138 411h3v1h-3zM129 412h9v1h-9zM124 413h5v1h-5zM123 414h1v1h-1zM122 415h1v1h-1zM120 416h2v1h-2zM119 417h1v1h-1zM113 418h6v1h-6zM36 419h77v1h-77zM30 420h6v1h-6zM25 421h5v1h-5zM21 422h4v1h-4zM17 423h4v1h-4zM14 424h3v1h-3zM10 425h4v1h-4zM7 426h3v1h-3zM6 427h1v1h-1z" fill="#ff0000"/>
</g>
<rect x="6" y="542" width="1" height="21" fill="#c0c0c0"/>
<rect x="14" y="544" width="1" height="19" fill="#c0c0c0"/>
<rect x="22" y="543" width="1" height="20" fill="#c0c0c0"/>
<rect x="30" y="543" width="1" height="20" fill="#c0c0c0"/>
<rect x="38" y="543" width="1" height="20" fill="#c0c0c0"/>
<rect x="46" y="540" width="1" height="23" fill="#c0c0c0"/>
<rect x="54" y="537" width="1" height="26" fill="#c0c0c0"/>
<rect x="62" y="536" width="1" height="27" fill="#c0c0c0"/>
<rect x="70" y="536" width="1" height="27" fill="#c0c0c0"/>
<rect x="78" y="537" width="1" height="26" fill="#c0c0c0"/>
<rect x="86" y="541" width="1" height="22" fill="#c0c0c0"/>
<rect x="94" y="545" width="1" height="18" fill="#c0c0c0"/>
<rect x="102" y="548" width="1" height="15" fill="#c0c0c0"/>
<rect x="110" y="549" width="1" height="14" fill="#c0c0c0"/>
<rect x="118" y="547" width="1" height="16" fill="#c0c0c0"/>
<rect x="126" y="542" width="1" height="21" fill="#c0c0c0"/>
<rect x="134" y="542" width="1" height="21" fill="#c0c0c0"/>
<rect x="142" y="538" width="1" height="25" fill="#c0c0c0"/>
<rect x="150" y="534" width="1" height="29" fill="#c0c0c0"/>
<rect x="158" y="531" width="1" height="32" fill="#c0c0c0"/>
<rect x="166" y="530" width="1" height="33" fill="#c0c0c0"/>
<rect x="174" y="529" width="1" height="34" fill="#c0c0c0"/>
<rect x="182" y="529" width="1" height="34" fill="#c0c0c0"/>
<rect x="190" y="530" width="1" height="33" fill="#c0c0c0"/>
<rect x="198" y="529" width="1" height="34" fill="#c0c0c0"/>
<rect x="206" y="533" width="1" height="30" fill="#c0c0c0"/>
<rect x="214" y="535" width="1" height="28" fill="#c0c0c0"/>
<rect x="222" y="538" width="1" height="25" fill="#c0c0c0"/>
<rect x="230" y="541" width="1" height="22" fill="#c0c0c0"/>
<rect x="238" y="544" width="1" height="19" fill="#c0c0c0"/>
<rect x="246" y="549" width="1" height="14" fill="#c0c0c0"/>
<rect x="254" y="553" width="1" height="10" fill="#c0c0c0"/>
<rect x="262" y="558" width="1" height="5" fill="#c0c0c0"/>
<rect x="270" y="562" width="1" height="1" fill="#c0c0c0"/>
<rect x="278" y="563" width="1" height="7" fill="#c0c0c0"/>
<rect x="286" y="563" width="1" height="9" fill="#c0c0c0"/>
<rect x="294" y="563" width="1" height="10" fill="#c0c0c0"/>
<rect x="302" y="563" width="1" height="11" fill="#c0c0c0"/>
<rect x="310" y="563" width="1" height="10" fill="#c0c0c0"/>
<rect x="318" y="563" width="1" height="9" fill="#c0c0c0"/>
<rect x="326" y="563" width="1" height="7" fill="#c0c0c0"/>
<rect x="334" y="563" width="1" height="5" fill="#c0c0c0"/>
<rect x="342" y="562" width="1" height="1" fill="#c0c0c0"/>
<rect x="350" y="561" width="1" height="2" fill="#c0c0c0"/>
<rect x="358" y="560" width="1" height="3" fill="#c0c0c0"/>
<rect x="366" y="557" width="1" height="6" fill="#c0c0c0"/>
<rect x="374" y="554" width="1" height="9" fill="#c0c0c0"/>
<rect x="382" y="552" width="1" height="11" fill="#c0c0c0"/>
<rect x="390" y="555" width="1" height="8" fill="#c0c0c0"/>
<rect x="398" y="554" width="1" height="9" fill="#c0c0c0"/>
<rect x="406" y="554" width="1" height="9" fill="#c0c0c0"/>
<rect x="414" y="554" width="1" height="9" fill="#c0c0c0"/>
<rect x="422" y="554" width="1" height="9" fill="#c0c0c0"/>
<rect x="430" y="553" width="1" height="10" fill="#c0c0c0"/>
<rect x="438" y="552" width="1" height="11" fill="#c0c0c0"/>
<rect x="446" y="549" width="1" height="14" fill="#c0c0c0"/>
<rect x="454" y="547" width="1" height="16" fill="#c0c0c0"/>
<rect x="462" y="547" width="1" height="16" fill="#c0c0c0"/>
<rect x="470" y="547" width="1" height="16" fill="#c0c0c0"/>
<rect x="478" y="544" width="1" height="19" fill="#c0c0c0"/>
<rect x="486" y="541" width="1" height="22" fill="#c0c0c0"/>
<rect x="494" y="536" width="1" height="27" fill="#c0c0c0"/>
<rect x="502" y="529" width="1" height="34" fill="#c0c0c0"/>
<rect x="510" y="520" width="1" height="43" fill="#c0c0c0"/>
<rect x="518" y="515" width="1" height="48" fill="#c0c0c0"/>
<rect x="526" y="510" width="1" height="53" fill="#c0c0c0"/>
<rect x="534" y="502" width="1" height="61" fill="#c0c0c0"/>
<rect x="542" y="497" width="1" height="66" fill="#c0c0c0"/>
<rect x="550" y="491" width="1" height="72" fill="#c0c0c0"/>
<rect x="558" y="483" width="1" height="80" fill="#c0c0c0"/>
<rect x="566" y="474" width="1" height="89" fill="#c0c0c0"/>
<rect x="574" y="472" width="1" height="91" fill="#c0c0c0"/>
<rect x="582" y="470" width="1" height="93" fill="#c0c0c0"/>
<rect x="590" y="469" width="1" height="94" fill="#c0c0c0"/>
<rect x="598" y="473" width="1" height="90" fill="#c0c0c0"/>
<rect x="606" y="474" width="1" height="89" fill="#c0c0c0"/>
<rect x="614" y="469" width="1" height="94" fill="#c0c0c0"/>
<rect x="622" y="467" width="1" height="96" fill="#c0c0c0"/>
<rect x="630" y="467" width="1" height="96" fill="#c0c0c0"/>
<rect x="638" y="472" width="1" height="91" fill="#c0c0c0"/>
<rect x="646" y="479" width="1" height="84" fill="#c0c0c0"/>
<rect x="654" y="489" width="1" height="74" fill="#c0c0c0"/>
<rect x="662" y="496" width="1" height="67" fill="#c0c0c0"/>
<rect x="670" y="500" width="1" height="63" fill="#c0c0c0"/>
<rect x="678" y="502" width="1" height="61" fill="#c0c0c0"/>
<rect x="686" y="506" width="1" height="57" fill="#c0c0c0"/>
<rect x="694" y="513" width="1" height="50" fill="#c0c0c0"/>
<rect x="702" y="518" width="1" height="45" fill="#c0c0c0"/>
<rect x="710" y="522" width="1" height="41" fill="#c0c0c0"/>
<rect x="718" y="519" width="1" height="44" fill="#c0c0c0"/>
<rect x="726" y="518" width="1" height="45" fill="#c0c0c0"/>
<rect x="734" y="520" width="1" height="43" fill="#c0c0c0"/>
<rect x="742" y="521" width="1" height="42" fill="#c0c0c0"/>
<rect x="750" y="518" width="1" height="45" fill="#c0c0c0"/>
<rect x="758" y="517" width="1" height="46" fill="#c0c0c0"/>
<rect x="766" y="522" width="1" height="41" fill="#c0c0c0"/>
<rect x="774" y="526" width="1" height="37" fill="#c0c0c0"/>
<rect x="782" y="531" width="1" height="32" fill="#c0c0c0"/>
<rect x="790" y="535" width="1" height="28" fill="#c0c0c0"/>
<rect x="798" y="545" width="1" height="18" fill="#c0c0c0"/>
<rect x="806" y="554" width="1" height="9" fill="#c0c0c0"/>
<rect x="814" y="559" width="1" height="4" fill="#c0c0c0"/>
<rect x="822" y="563" width="1" height="3" fill="#c0c0c0"/>
<rect x="830" y="563" width="1" height="7" fill="#c0c0c0"/>
<rect x="838" y="563" width="1" height="8" fill="#c0c0c0"/>
<rect x="846" y="563" width="1" height="6" fill="#c0c0c0"/>
<rect x="854" y="563" width="1" height="3" fill="#c0c0c0"/>
<rect x="862" y="562" width="1" height="1" fill="#c0c0c0"/>
<rect x="870" y="562" width="1" height="1" fill="#c0c0c0"/>
<rect x="878" y="562" width="1" height="1" fill="#c0c0c0"/>
<rect x="886" y="562" width="1" height="1" fill="#c0c0c0"/>
<rect x="894" y="558" width="1" height="5" fill="#c0c0c0"/>
<rect x="902" y="558" width="1" height="5" fill="#c0c0c0"/>
<rect x="910" y="552" width="1" height="11" fill="#c0c0c0"/>
<rect x="918" y="550" width="1" height="13" fill="#c0c0c0"/>
<rect x="926" y="542" width="1" height="21" fill="#c0c0c0"/>
<rect x="934" y="534" width="1" height="29" fill="#c0c0c0"/>
<rect x="942" y="521" width="1" height="42" fill="#c0c0c0"/>
<rect x="950" y="511" width="1" height="52" fill="#c0c0c0"/>
<path d="M637 469h5v1h-5zM625 470h1v1h-1zM629 470h5v1h-5zM645 470h5v1h-5zM621 471h4v1h-4zM653 471h3v1h-3zM616 472h2v1h-2zM656 472h2v1h-2zM613 473h3v1h-3zM661 474h2v1h-2zM609 475h1v1h-1zM663 475h3v1h-3zM607 476h2v1h-2zM605 477h2v1h-2zM669 477h2v1h-2zM671 478h2v1h-2zM601 479h1v1h-1zM673 479h1v1h-1zM599 480h2v1h-2zM677 480h1v1h-1zM597 481h2v1h-2zM678 481h2v1h-2zM680 482h2v1h-2zM593 483h1v1h-1zM591 484h2v1h-2zM685 484h2v1h-2zM589 485h2v1h-2zM687 485h2v1h-2zM689 486h1v1h-1zM585 487h1v1h-1zM583 488h2v1h-2zM582 489h1v1h-1zM693 489h1v1h-1zM581 490h1v1h-1zM694 490h1v1h-1zM695 491h2v1h-2zM577 492h1v1h-1zM697 492h1v1h-1zM575 493h2v1h-2zM574 494h1v1h-1zM573 495h1v1h-1zM701 496h2v1h-2zM703 497h1v1h-1zM569 498h1v1h-1zM704 498h1v1h-1zM567 499h2v1h-2zM705 499h1v1h-1zM566 500h1v1h-1zM565 501h1v1h-1zM709 501h1v1h-1zM710 502h2v1h-2zM712 503h2v1h-2zM561 505h1v1h-1zM717 505h1v1h-1zM560 506h1v1h-1zM718 506h3v1h-3zM559 507h1v1h-1zM721 507h1v1h-1zM558 508h1v1h-1zM725 508h1v1h-1zM557 509h1v1h-1zM726 509h2v1h-2zM728 510h2v1h-2zM733 511h1v1h-1zM734 512h4v1h-4zM552 513h2v1h-2zM551 514h1v1h-1zM741 514h4v1h-4zM550 515h1v1h-1zM745 515h1v1h-1zM549 516h1v1h-1zM749 516h4v1h-4zM753 517h1v1h-1zM757 517h2v1h-2zM759 518h3v1h-3zM765 518h5v1h-5zM545 519h1v1h-1zM773 519h5v1h-5zM781 519h1v1h-1zM543 520h2v1h-2zM782 520h4v1h-4zM542 521h1v1h-1zM789 521h2v1h-2zM541 522h1v1h-1zM791 522h3v1h-3zM537 524h1v1h-1zM797 524h1v1h-1zM536 525h1v1h-1zM798 525h2v1h-2zM534 526h2v1h-2zM800 526h2v1h-2zM533 527h1v1h-1zM805 528h1v1h-1zM529 529h1v1h-1zM806 529h2v1h-2zM205 530h5v1h-5zM213 530h5v1h-5zM221 530h3v1h-3zM528 530h1v1h-1zM808 530h2v1h-2zM198 531h4v1h-4zM224 531h2v1h-2zM229 531h2v1h-2zM526 531h2v1h-2zM192 532h2v1h-2zM197 532h1v1h-1zM231 532h3v1h-3zM525 532h1v1h-1zM189 533h3v1h-3zM237 533h5v1h-5zM813 533h1v1h-1zM182 534h4v1h-4zM245 534h1v1h-1zM520 534h2v1h-2zM814 534h2v1h-2zM6 535h2v1h-2zM181 535h1v1h-1zM246 535h3v1h-3zM518 535h2v1h-2zM816 535h2v1h-2zM8 536h2v1h-2zM175 536h3v1h-3zM249 536h1v1h-1zM517 536h1v1h-1zM13 537h2v1h-2zM173 537h2v1h-2zM253 537h1v1h-1zM15 538h3v1h-3zM168 538h2v1h-2zM254 538h3v1h-3zM512 538h2v1h-2zM821 538h1v1h-1zM21 539h3v1h-3zM63 539h3v1h-3zM69 539h5v1h-5zM77 539h5v1h-5zM85 539h5v1h-5zM93 539h5v1h-5zM101 539h5v1h-5zM165 539h3v1h-3zM257 539h1v1h-1zM510 539h2v1h-2zM822 539h2v1h-2zM24 540h2v1h-2zM29 540h2v1h-2zM53 540h5v1h-5zM61 540h2v1h-2zM109 540h5v1h-5zM117 540h2v1h-2zM161 540h1v1h-1zM261 540h1v1h-1zM509 540h1v1h-1zM824 540h1v1h-1zM31 541h3v1h-3zM37 541h5v1h-5zM45 541h5v1h-5zM119 541h3v1h-3zM125 541h3v1h-3zM149 541h5v1h-5zM157 541h4v1h-4zM262 541h3v1h-3zM505 541h1v1h-1zM825 541h1v1h-1zM128 542h2v1h-2zM133 542h5v1h-5zM141 542h5v1h-5zM265 542h1v1h-1zM503 542h2v1h-2zM501 543h2v1h-2zM829 543h1v1h-1zM949 543h2v1h-2zM269 544h2v1h-2zM497 544h1v1h-1zM830 544h1v1h-1zM271 545h2v1h-2zM494 545h3v1h-3zM831 545h1v1h-1zM273 546h1v1h-1zM493 546h1v1h-1zM832 546h2v1h-2zM945 546h1v1h-1zM486 547h4v1h-4zM944 547h1v1h-1zM277 548h1v1h-1zM485 548h1v1h-1zM942 548h2v1h-2zM278 549h2v1h-2zM477 549h5v1h-5zM837 549h1v1h-1zM941 549h1v1h-1zM280 550h1v1h-1zM465 550h1v1h-1zM469 550h5v1h-5zM838 550h1v1h-1zM281 551h1v1h-1zM453 551h5v1h-5zM461 551h4v1h-4zM839 551h2v1h-2zM937 551h1v1h-1zM439 552h3v1h-3zM445 552h5v1h-5zM841 552h1v1h-1zM935 552h2v1h-2zM285 553h2v1h-2zM429 553h5v1h-5zM437 553h2v1h-2zM933 553h2v1h-2zM287 554h2v1h-2zM421 554h5v1h-5zM845 554h1v1h-1zM289 555h1v1h-1zM413 555h5v1h-5zM846 555h2v1h-2zM928 555h2v1h-2zM405 556h5v1h-5zM848 556h2v1h-2zM925 556h3v1h-3zM293 557h1v1h-1zM398 557h4v1h-4zM294 558h2v1h-2zM393 558h1v1h-1zM397 558h1v1h-1zM853 558h1v1h-1zM919 558h3v1h-3zM296 559h2v1h-2zM389 559h4v1h-4zM854 559h3v1h-3zM917 559h2v1h-2zM857 560h1v1h-1zM913 560h1v1h-1zM301 561h1v1h-1zM382 561h4v1h-4zM861 561h1v1h-1zM909 561h4v1h-4zM302 562h2v1h-2zM381 562h1v1h-1zM862 562h4v1h-4zM904 562h2v1h-2zM304 563h2v1h-2zM376 563h2v1h-2zM869 563h1v1h-1zM897 563h1v1h-1zM901 563h3v1h-3zM373 564h3v1h-3zM870 564h4v1h-4zM889 564h1v1h-1zM893 564h4v1h-4zM309 565h1v1h-1zM877 565h5v1h-5zM885 565h4v1h-4zM310 566h3v1h-3zM367 566h3v1h-3zM313 567h1v1h-1zM365 567h2v1h-2zM317 568h3v1h-3zM360 568h2v1h-2zM320 569h2v1h-2zM357 569h3v1h-3zM325 570h4v1h-4zM349 570h5v1h-5zM329 571h1v1h-1zM333 571h5v1h-5zM341 571h5v1h-5z" fill="#ff0000"/>
<line x1="7" y1="615.5" x2="1211" y2="615.5" stroke="#c0c0c0" stroke-width="1" stroke-dasharray="3 3"/>
<line x1="7" y1="657.5" x2="1211" y2="657.5" stroke="#c0c0c0" stroke-width="1" stroke-dasharray="3 3"/>
<polyline points="6.5,632.5 14.5,629.5 22.5,626.5 30.5,628.5 38.5,625.5 46.5,620.5 54.5,618.5 62.5,621.5 70.5,623.5 78.5,627.5 86.5,636.5 94.5,639.5 102.5,635.5 110.5,634.5 118.5,624.5 126.5,618.5 134.5,631.5 142.5,624.5 150.5,620.5 158.5,620.5 166.5,622.5 174.5,622.5 182.5,622.5 190.5,628.5 198.5,623.5 206.5,633.5 214.5,630.5 222.5,633.5 230.5,633.5 238.5,633.5 246.5,643.5 254.5,641.5 262.5,643.5 270.5,652.5 278.5,650.5 286.5,645.5 294.5,642.5 302.5,645.5 310.5,640.5 318.5,640.5 326.5,640.5 334.5,630.5 342.5,626.5 350.5,629.5 358.5,632.5 366.5,628.5 374.5,625.5 382.5,625.5 390.5,640.5 398.5,632.5 406.5,635.5 414.5,633.5 422.5,635.5 430.5,630.5 438.5,628.5 446.5,623.5 454.5,626.5 462.5,628.5 470.5,628.5 478.5,620.5 486.5,620.5 494.5,614.5 502.5,608.5 510.5,605.5 518.5,611.5 526.5,608.5 534.5,606.5 542.5,605.5 550.5,602.5 558.5,600.5 566.5,598.5 574.5,611.5 582.5,608.5 590.5,612.5 598.5,619.5 606.5,615.5 614.5,610.5 622.5,610.5 630.5,613.5 638.5,621.5 646.5,626.5 654.5,631.5 662.5,629.5 670.5,625.5 678.5,624.5 686.5,627.5 694.5,632.5 702.5,631.5 710.5,630.5 718.5,621.5 726.5,624.5 734.5,628.5 742.5,625.5 750.5,621.5 758.5,622.5 766.5,631.5 774.5,633.5 782.5,635.5 790.5,634.5 798.5,645.5 806.5,645.5 814.5,643.5 822.5,648.5 830.5,644.5 838.5,640.5 846.5,635.5 854.5,634.5 862.5,630.5 870.5,633.5 878.5,638.5 886.5,634.5 894.5,629.5 902.5,635.5 910.5,626.5 918.5,630.5 926.5,623.5 934.5,620.5 942.5,614.5 950.5,612.5" fill="none" stroke="#0f87ff" stroke-width="1" shape-rendering="crispEdges"/>
<rect x="5" y="29" width="1207" height="1" fill="#000"/>
<rect x="5" y="457" width="1207" height="1" fill="#000"/>
<rect x="5" y="29" width="1" height="429" fill="#000"/>
<rect x="1211" y="29" width="1" height="429" fill="#000"/>
<rect x="5" y="459" width="1207" height="1" fill="#000"/>
<rect x="5" y="580" width="1207" height="1" fill="#000"/>
<rect x="5" y="459" width="1" height="122" fill="#000"/>
<rect x="1211" y="459" width="1" height="122" fill="#000"/>
<rect x="5" y="582" width="1207" height="1" fill="#000"/>
<rect x="5" y="689" width="1207" height="1" fill="#000"/>
<rect x="5" y="582" width="1" height="108" fill="#000"/>
<rect x="1211" y="582" width="1" height="108" fill="#000"/>
<rect x="6" y="109" width="1206" height="2" fill="#00d000"/>
<rect x="6" y="162" width="1206" height="2" fill="#4058e0"/>
<rect x="6" y="216" width="1206" height="2" fill="#4058e0"/>
<rect x="6" y="269" width="1206" height="2" fill="#4058e0"/>
<rect x="1212" y="91" width="2" height="1" fill="#000"/>
<text x="1216.5" y="95" font-size="10.2" text-rendering="geometricPrecision" fill="#000" stroke="#000" stroke-width="0.15" textLength="27.8" lengthAdjust="spacingAndGlyphs" >5726.0</text>
<rect x="1212" y="124" width="2" height="1" fill="#000"/>
<text x="1216.5" y="128" font-size="10.2" text-rendering="geometricPrecision" fill="#000" stroke="#000" stroke-width="0.15" textLength="27.8" lengthAdjust="spacingAndGlyphs" >5644.0</text>
<rect x="1212" y="157" width="2" height="1" fill="#000"/>
<text x="1216.5" y="161" font-size="10.2" text-rendering="geometricPrecision" fill="#000" stroke="#000" stroke-width="0.15" textLength="27.8" lengthAdjust="spacingAndGlyphs" >5564.0</text>
<rect x="1212" y="190" width="2" height="1" fill="#000"/>
<text x="1216.5" y="194" font-size="10.2" text-rendering="geometricPrecision" fill="#000" stroke="#000" stroke-width="0.15" textLength="27.8" lengthAdjust="spacingAndGlyphs" >5482.0</text>
<rect x="1212" y="223" width="2" height="1" fill="#000"/>
<text x="1216.5" y="227" font-size="10.2" text-rendering="geometricPrecision" fill="#000" stroke="#000" stroke-width="0.15" textLength="27.8" lengthAdjust="spacingAndGlyphs" >5400.0</text>
<rect x="1212" y="256" width="2" height="1" fill="#000"/>
<text x="1216.5" y="260" font-size="10.2" text-rendering="geometricPrecision" fill="#000" stroke="#000" stroke-width="0.15" textLength="27.8" lengthAdjust="spacingAndGlyphs" >5318.0</text>
<rect x="1212" y="289" width="2" height="1" fill="#000"/>
<text x="1216.5" y="293" font-size="10.2" text-rendering="geometricPrecision" fill="#000" stroke="#000" stroke-width="0.15" textLength="27.8" lengthAdjust="spacingAndGlyphs" >5238.0</text>
<rect x="1212" y="322" width="2" height="1" fill="#000"/>
<text x="1216.5" y="326" font-size="10.2" text-rendering="geometricPrecision" fill="#000" stroke="#000" stroke-width="0.15" textLength="27.8" lengthAdjust="spacingAndGlyphs" >5156.0</text>
<rect x="1212" y="355" width="2" height="1" fill="#000"/>
<text x="1216.5" y="359" font-size="10.2" text-rendering="geometricPrecision" fill="#000" stroke="#000" stroke-width="0.15" textLength="27.8" lengthAdjust="spacingAndGlyphs" >5074.0</text>
<rect x="1212" y="388" width="2" height="1" fill="#000"/>
<text x="1216.5" y="392" font-size="10.2" text-rendering="geometricPrecision" fill="#000" stroke="#000" stroke-width="0.15" textLength="27.8" lengthAdjust="spacingAndGlyphs" >4992.0</text>
<rect x="1212" y="421" width="2" height="1" fill="#000"/>
<text x="1216.5" y="425" font-size="10.2" text-rendering="geometricPrecision" fill="#000" stroke="#000" stroke-width="0.15" textLength="27.8" lengthAdjust="spacingAndGlyphs" >4912.0</text>
<rect x="1212" y="454" width="2" height="1" fill="#000"/>
<text x="1216.5" y="458" font-size="10.2" text-rendering="geometricPrecision" fill="#000" stroke="#000" stroke-width="0.15" textLength="27.8" lengthAdjust="spacingAndGlyphs" >4830.0</text>
<rect x="1214" y="56" width="34" height="11" fill="#000"/>
<text x="1216.5" y="65" font-size="10.2" text-rendering="geometricPrecision" fill="#fff" stroke="#fff" stroke-width="0.15" textLength="27.8" lengthAdjust="spacingAndGlyphs" >5799.8</text>
<rect x="1214" y="104" width="34" height="11" fill="#00d000"/>
<text x="1216.5" y="113" font-size="10.2" text-rendering="geometricPrecision" fill="#fff" stroke="#fff" stroke-width="0.15" textLength="27.8" lengthAdjust="spacingAndGlyphs" >5680.0</text>
<rect x="1214" y="157" width="34" height="11" fill="#4058e0"/>
<text x="1216.5" y="166" font-size="10.2" text-rendering="geometricPrecision" fill="#fff" stroke="#fff" stroke-width="0.15" textLength="27.8" lengthAdjust="spacingAndGlyphs" >5550.0</text>
<rect x="1214" y="211" width="34" height="11" fill="#4058e0"/>
<text x="1216.5" y="220" font-size="10.2" text-rendering="geometricPrecision" fill="#fff" stroke="#fff" stroke-width="0.15" textLength="27.8" lengthAdjust="spacingAndGlyphs" >5415.0</text>
<rect x="1214" y="264" width="34" height="11" fill="#4058e0"/>
<text x="1216.5" y="273" font-size="10.2" text-rendering="geometricPrecision" fill="#fff" stroke="#fff" stroke-width="0.15" textLength="27.8" lengthAdjust="spacingAndGlyphs" >5285.0</text>
<rect x="1212" y="61" width="2" height="1" fill="#000"/>
<text x="1215.3" y="471" font-size="10.2" text-rendering="geometricPrecision" fill="#000" stroke="#000" stroke-width="0.15" textLength="26.8" lengthAdjust="spacingAndGlyphs" >134.11</text>
<text x="1215.3" y="566" font-size="10.2" text-rendering="geometricPrecision" fill="#000" stroke="#000" stroke-width="0.15" textLength="17.2" lengthAdjust="spacingAndGlyphs" >0.00</text>
<text x="1215" y="578" font-size="10.2" text-rendering="geometricPrecision" fill="#000" stroke="#000" stroke-width="0.15" textLength="25.5" lengthAdjust="spacingAndGlyphs" >-22.95</text>
<rect x="1212" y="562" width="2" height="1" fill="#000"/>
<rect x="1212" y="460" width="1" height="1" fill="#000"/>
<rect x="1212" y="579" width="1" height="1" fill="#000"/>
<text x="1215.3" y="593" font-size="10.2" text-rendering="geometricPrecision" fill="#000" stroke="#000" stroke-width="0.15" textLength="14.5" lengthAdjust="spacingAndGlyphs" >100</text>
<text x="1213.5" y="619" font-size="10.2" text-rendering="geometricPrecision" fill="#000" stroke="#000" stroke-width="0.15" textLength="9.8" lengthAdjust="spacingAndGlyphs" >70</text>
<text x="1213.5" y="661" font-size="10.2" text-rendering="geometricPrecision" fill="#000" stroke="#000" stroke-width="0.15" textLength="9.8" lengthAdjust="spacingAndGlyphs" >30</text>
<text x="1215" y="686" font-size="10.2" text-rendering="geometricPrecision" fill="#000" stroke="#000" stroke-width="0.15" textLength="4.8" lengthAdjust="spacingAndGlyphs" >0</text>
<rect x="1212" y="583" width="1" height="1" fill="#000"/>
<rect x="1212" y="688" width="1" height="1" fill="#000"/>
<polygon points="9,36 16,36 12.5,40" fill="#000" shape-rendering="auto"/>
<text x="21" y="41" font-size="10.2" text-rendering="geometricPrecision" fill="#000" stroke="#000" stroke-width="0.15" textLength="65.5" lengthAdjust="spacingAndGlyphs" >CHINA300-,H4</text>
<text x="91.6" y="41" font-size="10.2" text-rendering="geometricPrecision" fill="#000" stroke="#000" stroke-width="0.15" textLength="121.0" lengthAdjust="spacingAndGlyphs" >5774.8 5826.8 5755.6 5799.8</text>
<text x="10" y="472" font-size="10.2" text-rendering="geometricPrecision" fill="#000" stroke="#000" stroke-width="0.15" textLength="117.5" lengthAdjust="spacingAndGlyphs" >MACD(12,26,9) 69.32 26.43</text>
<text x="10" y="595" font-size="10.2" text-rendering="geometricPrecision" fill="#000" stroke="#000" stroke-width="0.15" textLength="67.8" lengthAdjust="spacingAndGlyphs" >RSI(14) 72.6822</text>
<rect x="6" y="690" width="1" height="3" fill="#000"/>
<text x="5.7" y="702" font-size="10.2" text-rendering="geometricPrecision" fill="#000" stroke="#000" stroke-width="0.15" textLength="53.5" lengthAdjust="spacingAndGlyphs" >18 Nov 2020</text>
<rect x="70" y="690" width="1" height="3" fill="#000"/>
<text x="69.0" y="702" font-size="10.2" text-rendering="geometricPrecision" fill="#000" stroke="#000" stroke-width="0.15" textLength="57.1" lengthAdjust="spacingAndGlyphs" >24 Nov 05:00</text>
<rect x="134" y="690" width="1" height="3" fill="#000"/>
<text x="133.0" y="702" font-size="10.2" text-rendering="geometricPrecision" fill="#000" stroke="#000" stroke-width="0.15" textLength="56.6" lengthAdjust="spacingAndGlyphs" >30 Nov 05:00</text>
<rect x="198" y="690" width="1" height="3" fill="#000"/>
<text x="197.0" y="702" font-size="10.2" text-rendering="geometricPrecision" fill="#000" stroke="#000" stroke-width="0.15" textLength="50.6" lengthAdjust="spacingAndGlyphs" >4 Dec 05:00</text>
<rect x="262" y="690" width="1" height="3" fill="#000"/>
<text x="261.0" y="702" font-size="10.2" text-rendering="geometricPrecision" fill="#000" stroke="#000" stroke-width="0.15" textLength="54.6" lengthAdjust="spacingAndGlyphs" >10 Dec 05:00</text>
<rect x="326" y="690" width="1" height="3" fill="#000"/>
<text x="325.0" y="702" font-size="10.2" text-rendering="geometricPrecision" fill="#000" stroke="#000" stroke-width="0.15" textLength="54.3" lengthAdjust="spacingAndGlyphs" >16 Dec 05:00</text>
<rect x="390" y="690" width="1" height="3" fill="#000"/>
<text x="389.0" y="702" font-size="10.2" text-rendering="geometricPrecision" fill="#000" stroke="#000" stroke-width="0.15" textLength="55.0" lengthAdjust="spacingAndGlyphs" >22 Dec 05:00</text>
<rect x="454" y="690" width="1" height="3" fill="#000"/>
<text x="453.0" y="702" font-size="10.2" text-rendering="geometricPrecision" fill="#000" stroke="#000" stroke-width="0.15" textLength="55.5" lengthAdjust="spacingAndGlyphs" >28 Dec 05:00</text>
<rect x="518" y="690" width="1" height="3" fill="#000"/>
<text x="517.0" y="702" font-size="10.2" text-rendering="geometricPrecision" fill="#000" stroke="#000" stroke-width="0.15" textLength="47.7" lengthAdjust="spacingAndGlyphs" >4 Jan 05:00</text>
<rect x="582" y="690" width="1" height="3" fill="#000"/>
<text x="581.0" y="702" font-size="10.2" text-rendering="geometricPrecision" fill="#000" stroke="#000" stroke-width="0.15" textLength="47.3" lengthAdjust="spacingAndGlyphs" >8 Jan 05:00</text>
<rect x="646" y="690" width="1" height="3" fill="#000"/>
<text x="645.0" y="702" font-size="10.2" text-rendering="geometricPrecision" fill="#000" stroke="#000" stroke-width="0.15" textLength="51.9" lengthAdjust="spacingAndGlyphs" >14 Jan 05:00</text>
<rect x="710" y="690" width="1" height="3" fill="#000"/>
<text x="709.0" y="702" font-size="10.2" text-rendering="geometricPrecision" fill="#000" stroke="#000" stroke-width="0.15" textLength="52.3" lengthAdjust="spacingAndGlyphs" >20 Jan 05:00</text>
<rect x="774" y="690" width="1" height="3" fill="#000"/>
<text x="773.0" y="702" font-size="10.2" text-rendering="geometricPrecision" fill="#000" stroke="#000" stroke-width="0.15" textLength="52.7" lengthAdjust="spacingAndGlyphs" >26 Jan 05:00</text>
<rect x="838" y="690" width="1" height="3" fill="#000"/>
<text x="837.0" y="702" font-size="10.2" text-rendering="geometricPrecision" fill="#000" stroke="#000" stroke-width="0.15" textLength="49.7" lengthAdjust="spacingAndGlyphs" >1 Feb 05:00</text>
<rect x="902" y="690" width="1" height="3" fill="#000"/>
<text x="901.0" y="702" font-size="10.2" text-rendering="geometricPrecision" fill="#000" stroke="#000" stroke-width="0.15" textLength="49.4" lengthAdjust="spacingAndGlyphs" >5 Feb 05:00</text>
<text x="878.9" y="342.7" fill="#ff0505" font-size="37.6" font-weight="400" letter-spacing="0.1" style="font-family:'Liberation Sans','Noto Sans CJK SC',sans-serif">多空转折点<tspan font-size="40" font-weight="400" letter-spacing="0.9" stroke="#fff" stroke-width="0.35">5680</tspan></text>
<text x="11.9" y="17.8" font-size="11.9" fill="#505050" stroke="#505050" stroke-width="0.45">A</text>
<rect x="35.5" y="7.5" width="11" height="12" fill="none" stroke="#505050" stroke-width="1" stroke-dasharray="1 1"/>
<rect x="34" y="6" width="2" height="2" fill="#505050"/>
<text x="36.9" y="17.9" font-size="11.2" fill="#505050" stroke="#505050" stroke-width="0.55" textLength="8.2" lengthAdjust="spacingAndGlyphs">T</text>
<g fill="#505050" shape-rendering="geometricPrecision"><polygon points="58.7,10.7 62.4,6.8 66.1,10.7 64.3,10.7 64.3,11.7 60.5,11.7 60.5,10.7"/><polygon points="68.1,15.2 71.2,15.2 71.2,16.2 73,16.2 69.5,20 66,16.2 68.1,16.2"/><polyline points="61.1,14.3 63.4,16.5 67.8,11.3" fill="none" stroke="#505050" stroke-width="1.2"/><polygon points="76.8,12.1 82.2,12.1 79.5,14.9" fill="#000"/></g>
<rect x="88" y="0" width="1" height="25" fill="#8a8a8a"/>
<rect x="89" y="0" width="1" height="25" fill="#f4f4f4"/>
<rect x="92" y="3" width="3" height="1" fill="#8a8a8a"/>
<rect x="92" y="5" width="3" height="1" fill="#8a8a8a"/>
<rect x="92" y="7" width="3" height="1" fill="#8a8a8a"/>
<rect x="92" y="9" width="3" height="1" fill="#8a8a8a"/>
<rect x="92" y="11" width="3" height="1" fill="#8a8a8a"/>
<rect x="92" y="13" width="3" height="1" fill="#8a8a8a"/>
<rect x="92" y="15" width="3" height="1" fill="#8a8a8a"/>
<rect x="92" y="17" width="3" height="1" fill="#8a8a8a"/>
<rect x="92" y="19" width="3" height="1" fill="#8a8a8a"/>
<rect x="92" y="21" width="3" height="1" fill="#8a8a8a"/>
<defs><pattern id="ck" x="0" y="0" width="2" height="2" patternUnits="userSpaceOnUse"><rect width="2" height="2" fill="#e4e4e4"/><rect x="0" y="0" width="1" height="1" fill="#fff"/><rect x="1" y="1" width="1" height="1" fill="#fff"/></pattern></defs>
<rect x="224" y="2" width="21" height="21" fill="url(#ck)"/>
<rect x="223" y="1" width="23" height="1" fill="#8a8a8a"/>
<rect x="223" y="1" width="1" height="23" fill="#8a8a8a"/>
<rect x="223" y="23" width="23" height="1" fill="#fff"/>
<rect x="245" y="1" width="1" height="23" fill="#fff"/>
<text x="103.4" y="17" font-size="10.2" text-rendering="geometricPrecision" fill="#282828" stroke="#282828" stroke-width="0.2" textLength="12.8" lengthAdjust="spacingAndGlyphs" >M1</text>
<text x="128.29999999999998" y="17" font-size="10.2" text-rendering="geometricPrecision" fill="#282828" stroke="#282828" stroke-width="0.2" textLength="12.8" lengthAdjust="spacingAndGlyphs" >M5</text>
<text x="151.2" y="17" font-size="10.2" text-rendering="geometricPrecision" fill="#282828" stroke="#282828" stroke-width="0.2" textLength="17.8" lengthAdjust="spacingAndGlyphs" >M15</text>
<text x="176.1" y="17" font-size="10.2" text-rendering="geometricPrecision" fill="#282828" stroke="#282828" stroke-width="0.2" textLength="17.9" lengthAdjust="spacingAndGlyphs" >M30</text>
<text x="204.29999999999998" y="17" font-size="10.2" text-rendering="geometricPrecision" fill="#282828" stroke="#282828" stroke-width="0.2" textLength="12.0" lengthAdjust="spacingAndGlyphs" >H1</text>
<text x="228.5" y="17" font-size="10.2" text-rendering="geometricPrecision" fill="#282828" stroke="#282828" stroke-width="0.2" textLength="12.2" lengthAdjust="spacingAndGlyphs" >H4</text>
<text x="254.5" y="17" font-size="10.2" text-rendering="geometricPrecision" fill="#282828" stroke="#282828" stroke-width="0.2" textLength="11.7" lengthAdjust="spacingAndGlyphs" >D1</text>
<text x="278.9" y="17" font-size="10.2" text-rendering="geometricPrecision" fill="#282828" stroke="#282828" stroke-width="0.2" textLength="14.3" lengthAdjust="spacingAndGlyphs" >W1</text>
<text x="302.3" y="17" font-size="10.2" text-rendering="geometricPrecision" fill="#282828" stroke="#282828" stroke-width="0.2" textLength="14.8" lengthAdjust="spacingAndGlyphs" >MN</text>
<rect x="322" y="0" width="1" height="25" fill="#8a8a8a"/>
<rect x="323" y="0" width="1" height="25" fill="#f4f4f4"/>
</svg>
</body></html>
